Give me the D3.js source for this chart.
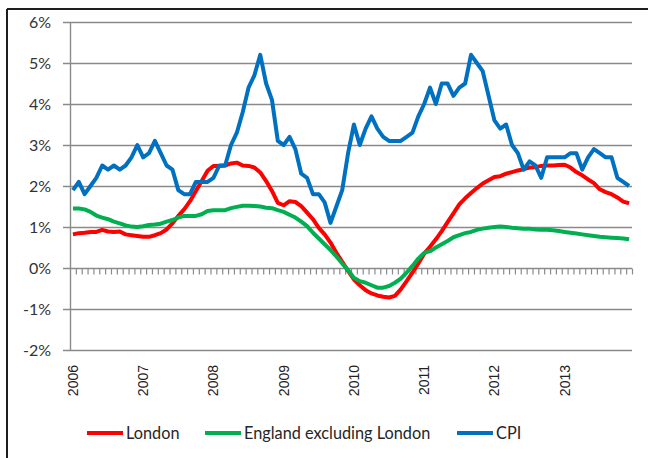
<!DOCTYPE html>
<html><head><meta charset="utf-8">
<script src="https://cdn.jsdelivr.net/npm/d3@7"></script>
<style>
html,body{margin:0;padding:0;background:#fff;}
svg{display:block;}
</style></head>
<body><svg id="c" width="648" height="458"></svg>
<script>
// ---- data (monthly, Jan 2006 – Dec 2013) ----
const years = ["2006","2007","2008","2009","2010","2011","2012","2013"];
const yTicks = [-2,-1,0,1,2,3,4,5,6];
const seriesNames = ["London","England excluding London","CPI"];
const london = [
0.82,0.85,0.86,0.88,0.88,0.93,0.89,0.88,0.89,0.82,0.80,0.78,
0.76,0.76,0.80,0.85,0.94,1.09,1.27,1.43,1.63,1.88,2.12,2.37,
2.49,2.49,2.50,2.55,2.57,2.50,2.49,2.45,2.33,2.12,1.88,1.59,
1.53,1.63,1.61,1.51,1.35,1.19,0.98,0.82,0.62,0.37,0.15,-0.07,
-0.28,-0.42,-0.54,-0.62,-0.67,-0.70,-0.72,-0.68,-0.52,-0.32,-0.11,0.11,
0.35,0.52,0.70,0.90,1.12,1.33,1.55,1.70,1.83,1.95,2.06,2.14,
2.22,2.24,2.30,2.34,2.38,2.41,2.45,2.46,2.49,2.50,2.50,2.51,
2.52,2.45,2.34,2.26,2.16,2.07,1.92,1.85,1.80,1.72,1.62,1.58];
const england = [
1.45,1.45,1.43,1.37,1.28,1.23,1.19,1.13,1.09,1.04,1.01,1.00,
1.02,1.05,1.06,1.08,1.13,1.17,1.23,1.27,1.27,1.27,1.31,1.39,
1.41,1.41,1.41,1.46,1.49,1.52,1.52,1.51,1.50,1.47,1.46,1.41,
1.37,1.30,1.23,1.13,1.02,0.86,0.72,0.58,0.44,0.28,0.11,-0.05,
-0.24,-0.32,-0.36,-0.42,-0.48,-0.48,-0.44,-0.36,-0.26,-0.11,0.05,0.23,
0.37,0.41,0.50,0.58,0.66,0.75,0.80,0.85,0.88,0.93,0.96,0.98,
1.00,1.01,1.00,0.98,0.97,0.96,0.96,0.94,0.93,0.93,0.92,0.90,
0.88,0.86,0.84,0.82,0.80,0.78,0.76,0.75,0.74,0.73,0.72,0.70];
const cpi = [
1.9,2.1,1.8,2.0,2.2,2.5,2.4,2.5,2.4,2.5,2.7,3.0,
2.7,2.8,3.1,2.8,2.5,2.4,1.9,1.8,1.8,2.1,2.1,2.1,
2.2,2.5,2.5,3.0,3.3,3.8,4.4,4.7,5.2,4.5,4.1,3.1,
3.0,3.2,2.9,2.3,2.2,1.8,1.8,1.6,1.1,1.5,1.9,2.8,
3.5,3.0,3.4,3.7,3.4,3.2,3.1,3.1,3.1,3.2,3.3,3.7,
4.0,4.4,4.0,4.5,4.5,4.2,4.4,4.5,5.2,5.0,4.8,4.2,
3.6,3.4,3.5,3.0,2.8,2.4,2.6,2.5,2.2,2.7,2.7,2.7,
2.7,2.8,2.8,2.4,2.7,2.9,2.8,2.7,2.7,2.2,2.1,2.0];
const colors = ["#ff0000","#00b050","#0070c0"];

// ---- layout ----
const svg = d3.select("#c");
const L = 70, R = 632, T = 22, B = 350;
const n = cpi.length;
const x = d3.scaleBand().domain(d3.range(n)).range([L, R]).paddingInner(0).paddingOuter(0);
const xb = d3.scaleLinear().domain([0, n]).range([L, R]);
const y = d3.scaleLinear().domain([-2, 6]).range([B, T]);
const gridC = "#8a8a8a";

// border (top & left)
svg.append("line").attr("x1",7).attr("y1",9).attr("x2",648).attr("y2",9).attr("stroke","#1e1e1e").attr("stroke-width",2);
svg.append("line").attr("x1",7).attr("y1",9).attr("x2",7).attr("y2",458).attr("stroke","#1e1e1e").attr("stroke-width",2);

// gridlines with left outer ticks
svg.append("g").selectAll("line").data(yTicks).join("line")
  .attr("x1", L - 7).attr("x2", R)
  .attr("y1", d => Math.round(y(d)) + 0.5).attr("y2", d => Math.round(y(d)) + 0.5)
  .attr("stroke", gridC).attr("stroke-width", 1.4);

// y axis labels
svg.append("g").selectAll("text").data(yTicks).join("text")
  .attr("x", 51).attr("y", d => y(d) + 5.5)
  .attr("text-anchor", "end")
  .attr("font-family", "Lato, 'Open Sans', sans-serif").attr("font-size", 16)
  .attr("fill", "#333").text(d => d + "%");

// y axis line
svg.append("line").attr("x1", L + 0.5).attr("x2", L + 0.5).attr("y1", T).attr("y2", B + 1)
  .attr("stroke", gridC).attr("stroke-width", 1.4);

// category ticks on the 0% axis
const xAxis = d3.axisBottom(xb).tickValues(d3.range(1, n + 1)).tickSize(6).tickFormat("");
const gx = svg.append("g").attr("transform", `translate(0,${Math.round(y(0)) + 0.5})`).call(xAxis);
gx.select(".domain").remove();
gx.selectAll(".tick line").attr("stroke", gridC).attr("stroke-width", 1.2);

// year labels
const yearIdx = years.map((_, k) => k * 12);
svg.append("g").selectAll("text").data(yearIdx).join("text")
  .attr("transform", d => `translate(${x(d) + x.bandwidth() / 2 + 5},${B + 15}) rotate(-90)`)
  .attr("text-anchor", "end")
  .attr("font-family", "'Liberation Sans', Arial, sans-serif").attr("font-size", 14)
  .attr("fill", "#222").text((d, k) => years[k]);

// lines
const line = d3.line().x((d, i) => x(i) + x.bandwidth() / 2).y(d => y(d)).curve(d3.curveLinear);
[london, england, cpi].forEach((s, k) => {
  svg.append("path").datum(s).attr("d", line).attr("fill", "none")
    .attr("stroke", colors[k]).attr("stroke-width", 4).attr("stroke-linejoin", "round");
});

// legend
const legX = [87, 205, 457];
const leg = svg.append("g");
seriesNames.forEach((name, k) => {
  leg.append("line").attr("x1", legX[k]).attr("x2", legX[k] + 36).attr("y1", 433).attr("y2", 433)
    .attr("stroke", colors[k]).attr("stroke-width", 4);
  leg.append("text").attr("x", legX[k] + 39).attr("y", 438.5)
    .attr("font-family", "Lato, 'Open Sans', sans-serif").attr("font-size", 16.3)
    .attr("fill", "#262626").text(name);
});
</script></body></html>
